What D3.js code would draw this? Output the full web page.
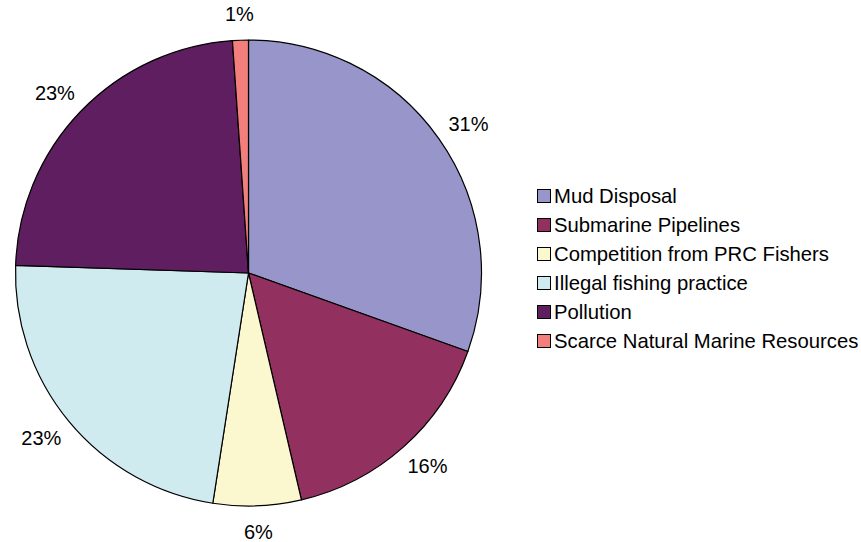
<!DOCTYPE html>
<html><head><meta charset="utf-8">
<script src="https://cdn.jsdelivr.net/npm/d3@7"></script>
<style>body{margin:0;background:#fff}svg{display:block}text{font-family:"Liberation Sans",Arial,sans-serif;fill:#000}</style>
</head><body>
<svg id="c" width="861" height="542"></svg>
<script>
const categories = ["Mud Disposal","Submarine Pipelines","Competition from PRC Fishers","Illegal fishing practice","Pollution","Scarce Natural Marine Resources"];
const values = [30.5, 15.9, 6.1, 23.1, 23.4, 1.1];
const labels = ["31%","16%","6%","23%","23%","1%"];
const colors = ["#9795c9","#92305f","#fbf7ce","#cfebf0","#5e1e5f","#f27f7c"];

const svg = d3.select("#c");
const cx = 248.5, cy = 273, r = 233;
const data = categories.map((c,i)=>({name:c, value:values[i], label:labels[i], color:colors[i]}));
const pie = d3.pie().value(d=>d.value).sort(null);
const arcs = pie(data);
const arc = d3.arc().innerRadius(0).outerRadius(r);
const g = svg.append("g").attr("transform",`translate(${cx},${cy})`);
g.selectAll("path").data(arcs).join("path")
  .attr("d",arc).attr("fill",d=>d.data.color)
  .attr("stroke","#000").attr("stroke-width",1.2).attr("stroke-linejoin","round");

const fs = 20, d0 = 16;
arcs.forEach(a=>{
  const m = (a.startAngle+a.endAngle)/2;
  const ux = Math.sin(m), uy = -Math.cos(m);
  const t = g.append("text").attr("font-size",fs).attr("text-anchor","middle").text(a.data.label);
  const w = t.node().getComputedTextLength(), h = fs;
  const x = (r+d0)*ux + w/2*ux;
  const y = (r+d0)*uy + h/2*uy;
  t.attr("x",x).attr("y",y).attr("dy","0.35em");
});

const lg = svg.append("g");
const ly = d3.scaleLinear().domain([0,1]).range([196,225]);
data.forEach((d,i)=>{
  const y = ly(i);
  lg.append("rect").attr("x",537.5).attr("y",y-6.5).attr("width",13).attr("height",13)
    .attr("fill",d.color).attr("stroke","#000").attr("stroke-width",1);
  lg.append("text").attr("x",554).attr("y",y).attr("dy","0.35em").attr("font-size",20.3).text(d.name);
});
</script>
</body></html>
